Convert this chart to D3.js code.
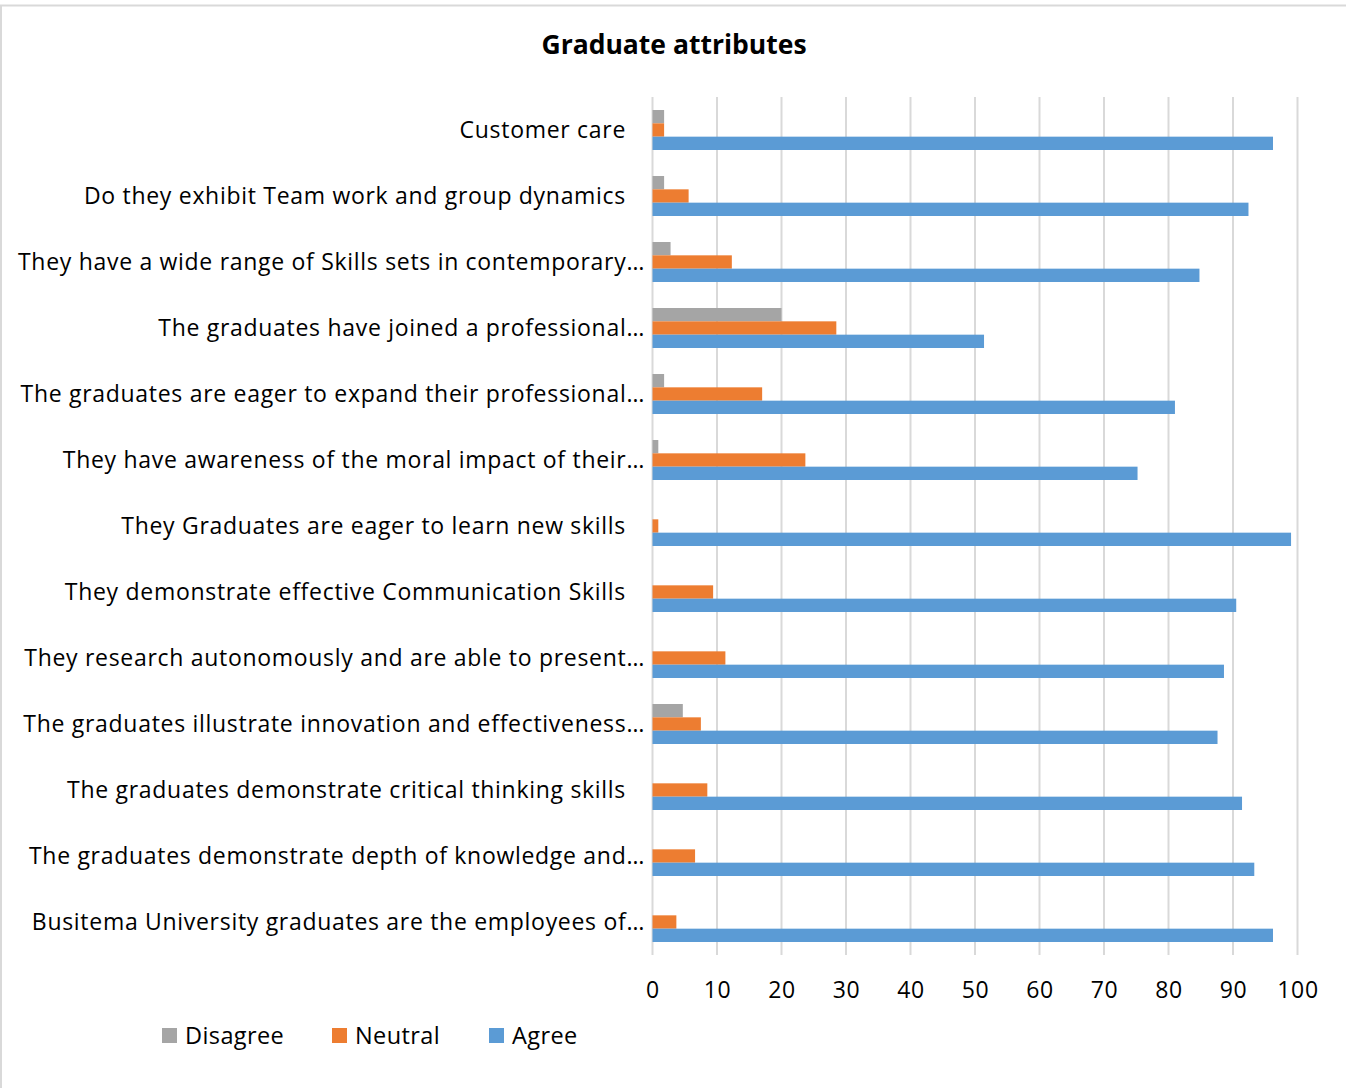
<!DOCTYPE html>
<html>
<head>
<meta charset="utf-8">
<script src="https://cdn.jsdelivr.net/npm/d3@7"></script>
<style>
  html, body { margin: 0; padding: 0; background: #fff; }
  svg { display: block; }
  text { font-family: "Open Sans", "Noto Sans", sans-serif; fill: #000; }
</style>
</head>
<body>
<svg id="chart" width="1346" height="1088"></svg>
<script>
// Survey items, top to bottom
const categories = [
  "Customer care",
  "Do they exhibit Team work and group dynamics",
  "They have a wide range of Skills sets in contemporary…",
  "The graduates have joined a professional…",
  "The graduates are eager to expand their professional…",
  "They have awareness of the moral impact of their…",
  "They Graduates are eager to learn new skills",
  "They demonstrate effective Communication Skills",
  "They research autonomously and are able to present…",
  "The graduates illustrate innovation and effectiveness…",
  "The graduates demonstrate critical thinking skills",
  "The graduates demonstrate depth of knowledge and…",
  "Busitema University graduates are the employees of…"
];

const seriesNames = ["Disagree", "Neutral", "Agree"];

// Percent of respondents per item
const disagree = [1.8, 1.8, 2.8, 20.0, 1.8, 0.9, 0, 0, 0, 4.7, 0, 0, 0];
const neutral  = [1.8, 5.6, 12.3, 28.5, 17.0, 23.7, 0.9, 9.4, 11.3, 7.5, 8.5, 6.6, 3.7];
const agree    = [96.2, 92.4, 84.8, 51.4, 81.0, 75.2, 99.0, 90.5, 88.6, 87.6, 91.4, 93.3, 96.2];

const xTicks = [0, 10, 20, 30, 40, 50, 60, 70, 80, 90, 100];
const colors = ["#a5a5a5", "#ed7d31", "#5b9bd5"];

const svg = d3.select("#chart");

// outer chart frame
svg.append("rect")
  .attr("x", 1).attr("y", 5.5)
  .attr("width", 1400).attr("height", 1200)
  .attr("fill", "none").attr("stroke", "#d9d9d9").attr("stroke-width", 2);

const plot = { left: 652.5, right: 1297.5, top: 97, bottom: 955 };

const x = d3.scaleLinear().domain([0, 100]).range([plot.left, plot.right]);
const y = d3.scaleBand().domain(categories).range([plot.top, plot.bottom])
  .paddingInner(0.394).paddingOuter(0.197);
const ySub = d3.scaleBand().domain(seriesNames).range([0, y.bandwidth()]);

const values = { Disagree: disagree, Neutral: neutral, Agree: agree };

// gridlines
svg.append("g")
  .selectAll("line")
  .data(xTicks)
  .join("line")
  .attr("x1", d => x(d)).attr("x2", d => x(d))
  .attr("y1", plot.top).attr("y2", plot.bottom)
  .attr("stroke", "#d9d9d9").attr("stroke-width", 2);

// bars
const groups = svg.append("g")
  .selectAll("g")
  .data(categories)
  .join("g")
  .attr("transform", c => `translate(0,${y(c)})`);

groups.selectAll("rect")
  .data((c, i) => seriesNames.map((s, k) => ({ s, k, v: values[s][i] })))
  .join("rect")
  .attr("x", x(0))
  .attr("y", d => ySub(d.s))
  .attr("width", d => x(d.v) - x(0))
  .attr("height", ySub.bandwidth())
  .attr("fill", d => colors[d.k]);

// category labels
svg.append("g")
  .selectAll("text")
  .data(categories)
  .join("text")
  .attr("x", c => c.endsWith("…") ? 645 : 626)
  .attr("y", c => y(c) + y.bandwidth() / 2)
  .attr("dy", "0.35em")
  .attr("text-anchor", "end")
  .style("font-size", "23px")
  .style("letter-spacing", "0.7px")
  .text(c => c);

// x-axis tick labels
const xAxis = d3.axisBottom(x).tickValues(xTicks).tickSize(0).tickPadding(0);
const ax = svg.append("g").attr("transform", `translate(0,${plot.bottom})`).call(xAxis);
ax.select(".domain").remove();
ax.selectAll("text")
  .attr("y", 35)
  .attr("dy", "0.35em")
  .style("font-size", "23px")
  .style("letter-spacing", "0.7px")
  .style("font-family", "'Open Sans', 'Noto Sans', sans-serif")
  .attr("fill", "#000");

// title
svg.append("text")
  .attr("x", 674).attr("y", 45)
  .attr("dy", "0.35em")
  .attr("text-anchor", "middle")
  .style("font-size", "26.5px")
  .style("font-weight", "bold")
  .text("Graduate attributes");

// legend
const legendX = [162, 332, 489];
const legend = svg.append("g")
  .selectAll("g")
  .data(seriesNames)
  .join("g")
  .attr("transform", (d, i) => `translate(${legendX[i]},1036)`);
legend.append("rect")
  .attr("x", 0).attr("y", -8)
  .attr("width", 15).attr("height", 15)
  .attr("fill", (d, i) => colors[i]);
legend.append("text")
  .attr("x", 23).attr("y", 0)
  .attr("dy", "0.35em")
  .style("font-size", "23.5px")
  .style("letter-spacing", "0.4px")
  .text(d => d);
</script>
</body>
</html>
